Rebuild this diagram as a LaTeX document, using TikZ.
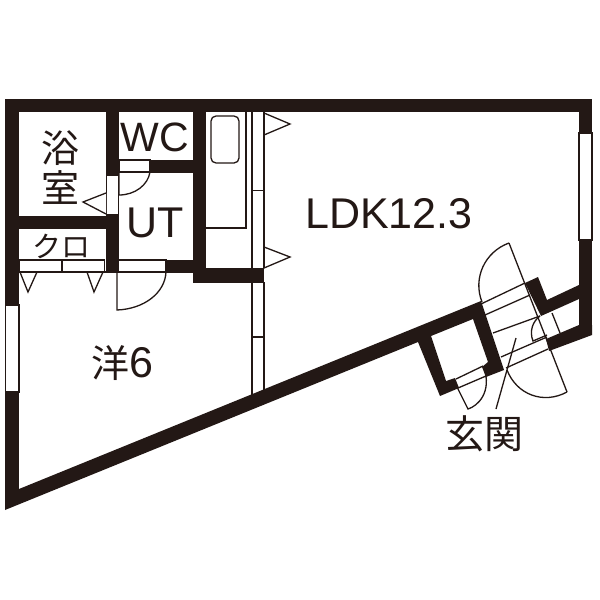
\documentclass[tikz,border=0pt]{standalone}
\usepackage{fontspec}
\setmainfont{Liberation Sans}
\newfontfamily\cjk{Noto Sans CJK JP}
\definecolor{ink}{HTML}{231815}
\tikzset{
 wall/.style={fill=ink,draw=none},
 thin line/.style={draw=ink,line width=1.3pt},
 hair/.style={draw=ink,line width=1.3pt,fill=white},
 label/.style={text=ink,inner sep=0pt,anchor=center},
}
\newcommand{\fs}[1]{\fontsize{#1}{#1}\selectfont}
\begin{document}
\begin{tikzpicture}[x=1pt,y=-1pt]
\useasboundingbox (0,0) rectangle (600,600);
\fill[white] (0,0) rectangle (600,600);
% walls
\fill[wall] (5,99) rectangle (592,112);
\fill[wall] (5,99) rectangle (19,500);
\fill[wall] (579,99) rectangle (592,335);
\fill[wall] (5,510) -- (5,480) -- (19,489) -- (481,301) -- (504,370) -- (486,377) -- (482,367) -- (488,362) -- (473,319) -- (431,336) -- (446,381) -- (455,378) -- (459,388) -- (440,396) -- (418,342) -- cycle;
\fill[wall] (525,283) -- (538,277) -- (547,300) -- (579,285) -- (579,299) -- (541,316) -- cycle;
\fill[wall] (579,325) -- (546,339) -- (549,351) -- (592,335) -- (592,325) -- cycle;
\fill[wall] (105.5,99) rectangle (119,175);
\fill[wall] (105.5,215) rectangle (119,272.5);
\fill[wall] (19,215.5) rectangle (119,229);
\fill[wall] (150,159.5) rectangle (193,172.7);
\fill[wall] (192.7,99) rectangle (206,282.6);
\fill[wall] (166,259.5) rectangle (206,272.5);
\fill[wall] (192.7,268) rectangle (264,282.6);
% windows
\draw[hair] (5.6,305) rectangle (19,392);
\draw[hair] (579,133) rectangle (592,240);
% bath door
\draw[hair] (106.5,175) rectangle (118.5,215);
\draw[thin line,fill=white,line join=miter] (106,193) -- (83,202) -- (106,214);
% WC door
\draw[hair] (119,160) rectangle (150,172);
\draw[thin line] (119,172) -- (119,195) .. controls (135,195) and (148,185) .. (150,172);
% closet doors
\draw[hair] (19,260) rectangle (62,272);
\draw[hair] (62,260) rectangle (104.5,272);
\draw[thin line] (19,272) -- (118,272);
\draw[thin line,line join=miter] (20,272) -- (28,292) -- (37,272);
\draw[thin line,line join=miter] (87,272) -- (94,292) -- (103,272);
% UT door
\draw[hair] (118,260) rectangle (166,272);
\draw[thin line] (117,272) -- (117,310) .. controls (144,309) and (165,293) .. (166,272);
% bath unit
\draw[thin line] (246,112) -- (246,228) -- (206,228);
\draw[thin line,rounded corners=5pt] (211,116) rectangle (239,163);
% sliding doors
\draw[thin line] (252,112) -- (252,268);
\draw[thin line] (264,112) -- (264,268);
\draw[thin line] (252,190.7) -- (264,190.7);
\draw[thin line] (252,282) -- (252,395);
\draw[thin line] (264,282) -- (264,390);
\draw[thin line] (252,337) -- (264,337);
% LDK triangles
\draw[thin line,line join=miter] (264,113) -- (290,124) -- (264,135);
\draw[thin line,line join=miter] (264,247) -- (290,257) -- (264,268);
% entrance lines
\draw[thin line] (481,304) -- (525,283);
\draw[thin line] (485,315) -- (530,295);
\draw[thin line] (493,333) -- (540,316);
\draw[thin line] (501,357) -- (547,337);
\draw[thin line] (506,368) -- (548,349);
\draw[thin line] (552,313) -- (560,333);
% big double door
\draw[thin line] (509,243) -- (567,392);
\draw[thin line] (509,243) .. controls (484.7,251.8) and (472.6,278.3) .. (482,302);
\draw[thin line] (567,392) .. controls (543.5,404.7) and (516.7,394.8) .. (507,370);
% inner small door
\draw[thin line] (540,316) .. controls (533,321) and (529,331) .. (533,341) -- (547,335);
% storage door
\draw[thin line] (456,379) -- (483,366);
\draw[thin line] (458,388) -- (486,376);
\draw[thin line] (457,387) -- (468,409) .. controls (478,406) and (492,392) .. (484,368);
% leader
\draw[thin line] (516,338) -- (496,409);
% labels
\node[label,font=\cjk\fs{38}] (bath1) at (60,148) {浴};
\node[label,font=\cjk\fs{38}] (bath2) at (60,188) {室};
\node[label,font=\fs{41}] (wc) at (155,137) {WC};
\node[label,font=\fs{43}] (ut) at (155,223) {UT};
\node[label,font=\cjk\fs{29}] (clo) at (61,246) {クロ};
\node[label,font=\fs{43}] (ldk) at (389,214) {LDK12.3};
\node[label,font=\fs{43}] (yo) at (122,363) {{\cjk\fs{38}洋}6};
\node[label,font=\cjk\fs{39}] (genkan) at (484,434) {玄関};
\end{tikzpicture}
\end{document}
